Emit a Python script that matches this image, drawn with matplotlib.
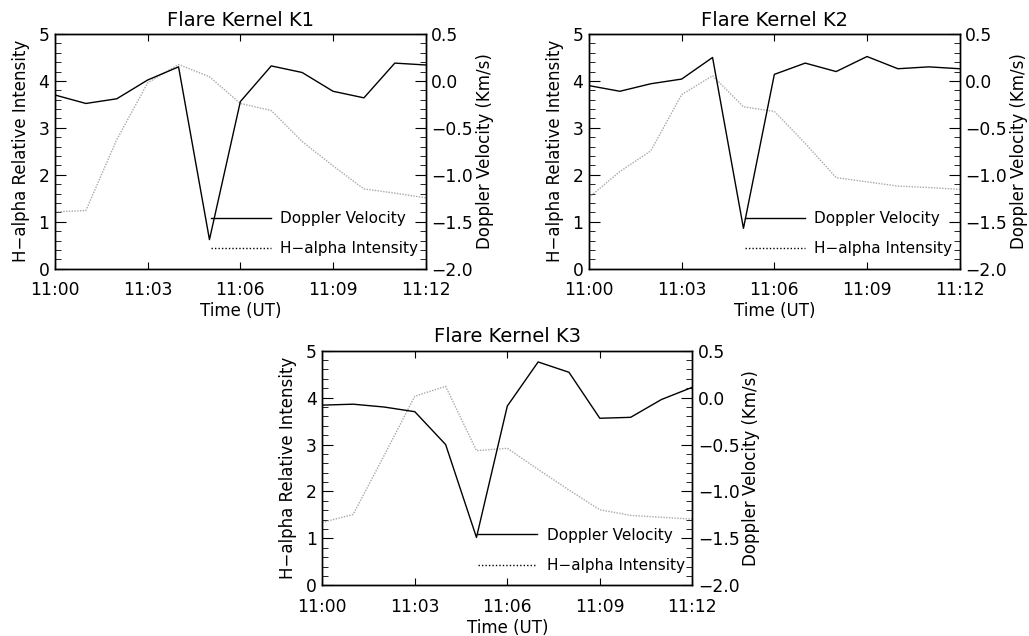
import matplotlib.pyplot as plt
from matplotlib.lines import Line2D
from matplotlib.ticker import MultipleLocator

# minutes after 11:00 UT
minutes = list(range(13))
tick_minutes = [0, 3, 6, 9, 12]
tick_labels = ['11:00', '11:03', '11:06', '11:09', '11:12']

# Doppler velocity (km/s), right axis
vel_k1 = [-0.15, -0.24, -0.19, 0.01, 0.15, -1.69, -0.22, 0.16, 0.09, -0.11, -0.18, 0.19, 0.17]
vel_k2 = [-0.05, -0.11, -0.03, 0.02, 0.25, -1.57, 0.07, 0.19, 0.10, 0.26, 0.13, 0.15, 0.13]
vel_k3 = [-0.08, -0.07, -0.10, -0.15, -0.50, -1.49, -0.09, 0.38, 0.27, -0.22, -0.21, -0.02, 0.11]

# H-alpha relative intensity, left axis
int_k1 = [1.21, 1.24, 2.75, 3.96, 4.35, 4.09, 3.52, 3.37, 2.71, 2.19, 1.70, 1.61, 1.51]
int_k2 = [1.52, 2.07, 2.51, 3.71, 4.11, 3.45, 3.35, 2.67, 1.94, 1.85, 1.76, 1.73, 1.69]
int_k3 = [1.34, 1.51, 2.76, 4.03, 4.24, 2.87, 2.92, 2.47, 2.03, 1.61, 1.49, 1.45, 1.41]

titles = ['Flare Kernel K1', 'Flare Kernel K2', 'Flare Kernel K3']

W, H = 1029, 636
fig = plt.figure(figsize=(W / 100, H / 100), dpi=100)
plt.rcParams['font.family'] = 'DejaVu Sans'
tick_fs = 12.3
label_fs = 12
leg_fs = 11
title_fs = 14

# axes boxes in pixels: left, right, top, bottom
boxes = [(55, 425.7, 34, 268.7), (589, 959.7, 34, 268.7), (322.3, 692.3, 350.7, 585.3)]


def make_panel(box, title, intensity, velocity):
    l, r, t, b = box
    ax = fig.add_axes([l / W, 1 - b / H, (r - l) / W, (b - t) / H])
    ax.plot(minutes, intensity, color='#a8a8a8', lw=1, linestyle=(0, (1, 1)))
    ax.set_xlim(0, 12)
    ax.set_ylim(0, 5)
    ax.set_xticks(tick_minutes)
    ax.set_xticklabels(tick_labels)
    ax.yaxis.set_major_locator(MultipleLocator(1))
    ax.yaxis.set_minor_locator(MultipleLocator(0.2))
    ax.tick_params(axis='both', which='both', direction='in', labelsize=tick_fs)
    ax.tick_params(axis='x', top=True, length=5, pad=9)
    ax.tick_params(axis='y', which='major', length=8, pad=4)
    ax.tick_params(axis='y', which='minor', length=4)
    ax.set_xlabel('Time (UT)', fontsize=label_fs, labelpad=2)
    ax.set_ylabel('H\u2212alpha Relative Intensity', fontsize=label_fs, labelpad=6)
    ax.set_title(title, fontsize=title_fs, pad=6)

    ax2 = ax.twinx()
    ax2.plot(minutes, velocity, color='black', lw=1)
    ax2.set_ylim(-2.0, 0.5)
    ax2.yaxis.set_major_locator(MultipleLocator(0.5))
    ax2.yaxis.set_minor_locator(MultipleLocator(0.1))
    ax2.set_yticklabels([f'{v:.1f}'.replace('-', '\u2212') for v in ax2.get_yticks()])
    ax2.tick_params(axis='y', which='both', direction='in', labelsize=tick_fs, pad=4)
    ax2.tick_params(axis='y', which='major', length=8)
    ax2.tick_params(axis='y', which='minor', length=4)
    ax2.set_ylabel('Doppler Velocity (Km/s)', fontsize=label_fs, labelpad=2)
    for a in (ax, ax2):
        for s in a.spines.values():
            s.set_linewidth(1)

    handles = [Line2D([], [], color='black', lw=1),
               Line2D([], [], color='black', lw=1, linestyle=(0, (1, 1.5)))]
    ax2.legend(handles, ['Doppler Velocity', 'H\u2212alpha Intensity'],
               loc='lower right', frameon=False, fontsize=leg_fs,
               handlelength=3.9, handletextpad=0.6, labelspacing=1.0,
               borderaxespad=0.1, bbox_to_anchor=(1.0, 0.02))


for box, title, inten, vel in zip(boxes, titles, [int_k1, int_k2, int_k3],
                                  [vel_k1, vel_k2, vel_k3]):
    make_panel(box, title, inten, vel)

fig.savefig('out.png', dpi=100)
